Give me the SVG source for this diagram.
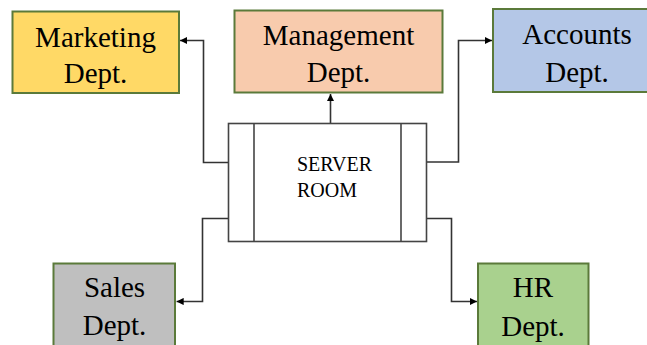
<svg xmlns="http://www.w3.org/2000/svg" width="647" height="345" viewBox="0 0 647 345">
<style>
.box{stroke:#5B7A3A;stroke-width:2}
.lbl{font-size:29px;fill:#000;text-anchor:middle}
.srv{font-size:20px;fill:#000}
.conn{fill:none;stroke:#333;stroke-width:1.6}
.frame{fill:#fff;stroke:#444;stroke-width:1.6}
</style>
<defs>
<marker id="arr" viewBox="0 0 10 10" refX="10" refY="5" markerWidth="4.5" markerHeight="4.5" orient="auto" markerUnits="strokeWidth">
<path d="M0,0 L10,5 L0,10 z" fill="#000"/>
</marker>
</defs>
<rect width="647" height="345" fill="#fff"/>
<g id="connectors">
<polyline class="conn" points="229,162.5 203.5,162.5 203.5,40.5 180,40.5" marker-end="url(#arr)"/>
<polyline class="conn" points="330.5,123.5 330.5,94" marker-end="url(#arr)"/>
<polyline class="conn" points="426,162 458.5,162 458.5,40.5 492,40.5" marker-end="url(#arr)"/>
<polyline class="conn" points="229,218.5 202.5,218.5 202.5,301.5 176.5,301.5" marker-end="url(#arr)"/>
<polyline class="conn" points="426,218.5 451.5,218.5 451.5,301.5 477,301.5" marker-end="url(#arr)"/>
</g>
<g id="marketing">
<rect class="box" x="12.5" y="11.5" width="166.5" height="81.5" fill="#FFD966"/>
<text class="lbl" font-family="Liberation Serif" x="95.5" y="46.5">Marketing</text>
<text class="lbl" font-family="Liberation Serif" x="95.5" y="82.5">Dept.</text>
</g>
<g id="management">
<rect class="box" x="234.5" y="10.5" width="208" height="82" fill="#F8CBAD"/>
<text class="lbl" font-family="Liberation Serif" x="338.5" y="45">Management</text>
<text class="lbl" font-family="Liberation Serif" x="338.5" y="82">Dept.</text>
</g>
<g id="accounts">
<rect class="box" x="493" y="9" width="168" height="83" fill="#B4C7E7"/>
<text class="lbl" font-family="Liberation Serif" x="577" y="43.5">Accounts</text>
<text class="lbl" font-family="Liberation Serif" x="577" y="81.5">Dept.</text>
</g>
<g id="server">
<rect class="frame" x="228.5" y="123.5" width="198" height="118"/>
<line class="frame" x1="254" y1="123.5" x2="254" y2="241.5"/>
<line class="frame" x1="401" y1="123.5" x2="401" y2="241.5"/>
<text class="srv" font-family="Liberation Serif" x="297" y="171">SERVER</text>
<text class="srv" font-family="Liberation Serif" x="297" y="197">ROOM</text>
</g>
<g id="sales">
<rect class="box" x="53.5" y="263.5" width="121.5" height="90" fill="#BFBFBF"/>
<text class="lbl" font-family="Liberation Serif" x="114.5" y="296.5">Sales</text>
<text class="lbl" font-family="Liberation Serif" x="114.5" y="335">Dept.</text>
</g>
<g id="hr">
<rect class="box" x="478" y="263.5" width="110.5" height="90" fill="#A9D18E"/>
<text class="lbl" font-family="Liberation Serif" x="533" y="296.5">HR</text>
<text class="lbl" font-family="Liberation Serif" x="533" y="335.5">Dept.</text>
</g>
</svg>
